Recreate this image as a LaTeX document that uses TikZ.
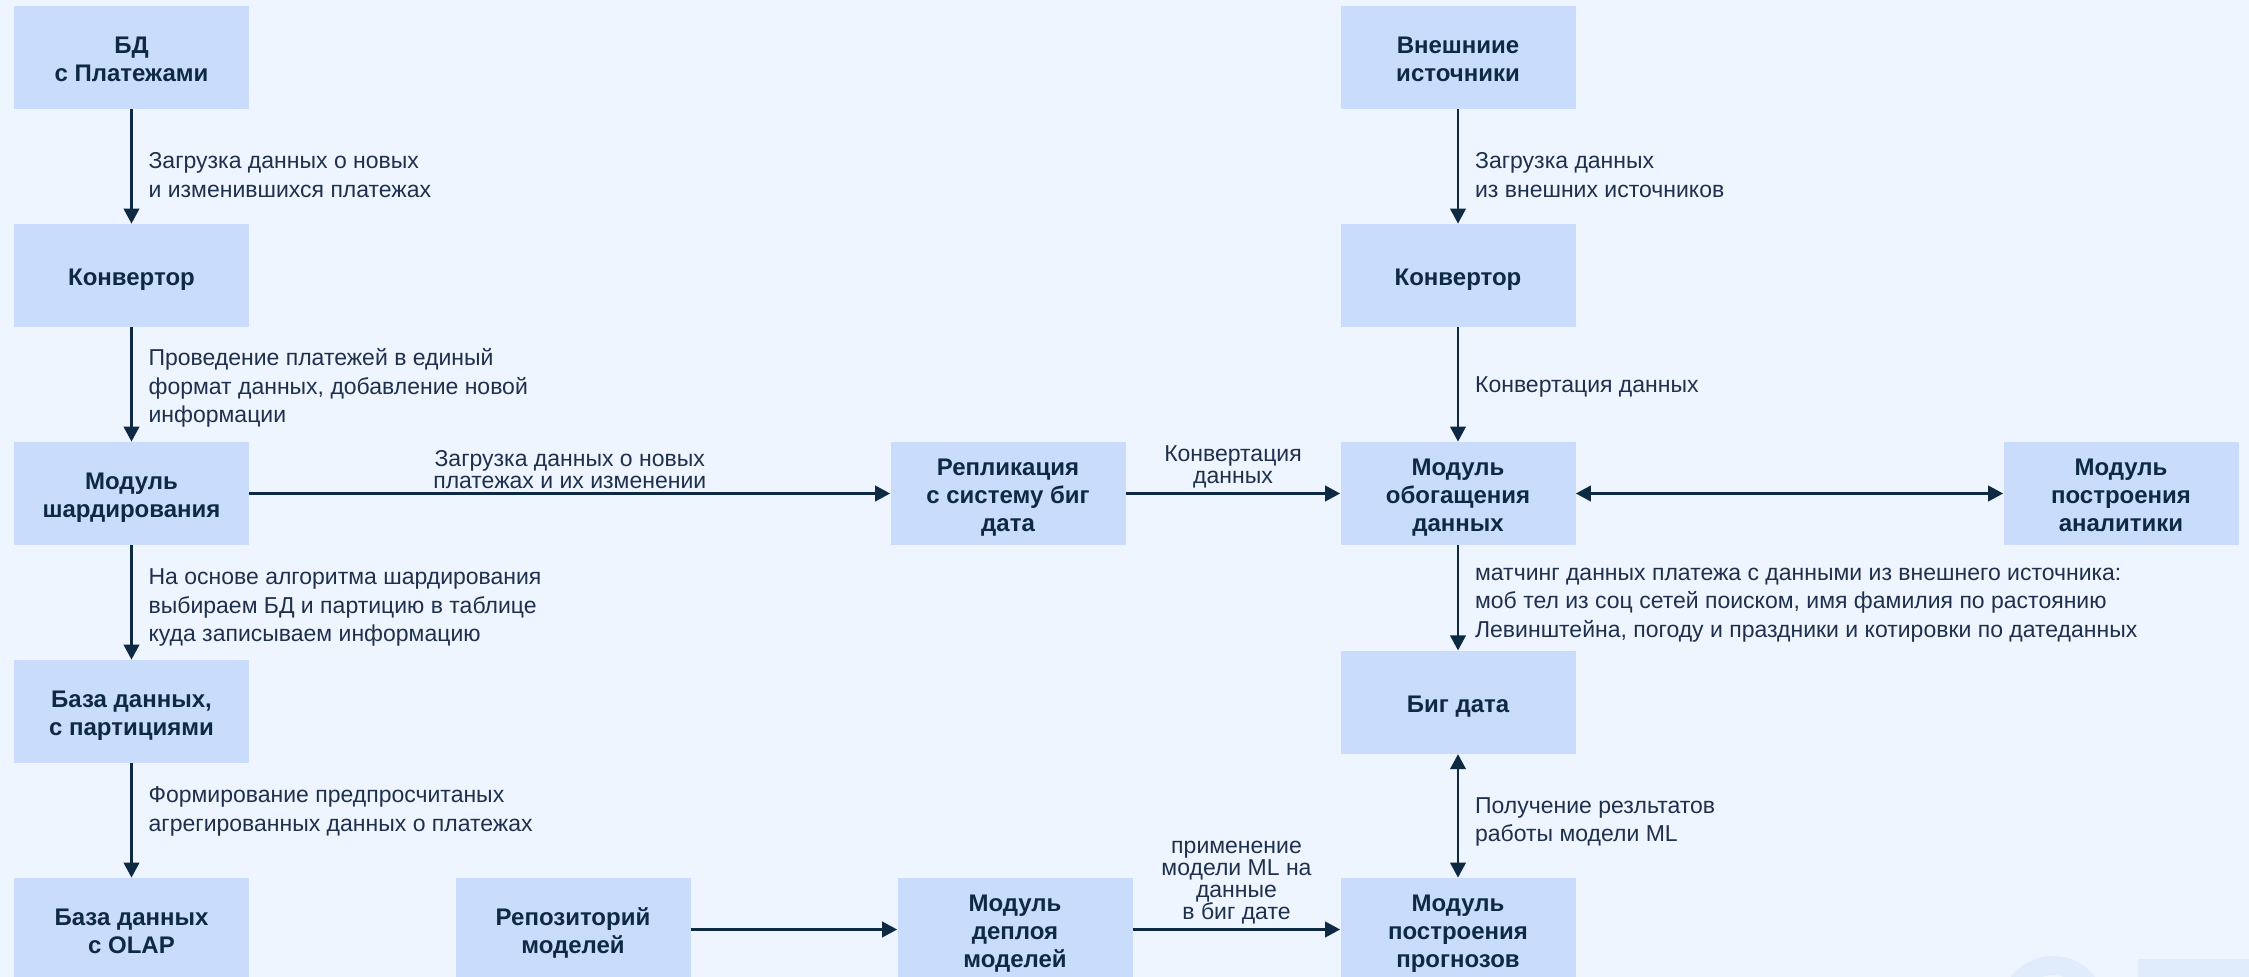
\documentclass[tikz,border=0pt]{standalone}
\usepackage{fontspec}
\setmainfont{Liberation Sans}
\usetikzlibrary{arrows.meta}
\definecolor{bg}{RGB}{239,245,254}
\definecolor{boxc}{RGB}{202,220,251}
\definecolor{txt}{RGB}{14,42,66}
\definecolor{lbl}{RGB}{30,48,78}
\definecolor{wm}{RGB}{224,236,252}
\newcommand\bt[1]{\raisebox{-2.2pt}[\height][\depth]{\begin{tabular}{@{}c@{}}#1\end{tabular}}}
\begin{document}
\begin{tikzpicture}[x=0.5pt,y=-0.5pt,
 blk/.style={fill=boxc, minimum width=117.5pt, minimum height=51.5pt, inner sep=0pt,
   font=\fontsize{12}{14.2}\selectfont\bfseries, text=txt},
 tip/.style={Triangle[length=7.5pt,width=7.8pt]},
 conn/.style={draw=txt, line width=1.1pt, -{Triangle[length=7.5pt,width=7.8pt]}},
 biconn/.style={draw=txt, line width=1.1pt, {Triangle[length=7.5pt,width=7.8pt]}-{Triangle[length=7.5pt,width=7.8pt]}},
 vlab/.style={font=\fontsize{11.5}{14.2}\selectfont, text=lbl, align=left, anchor=west, inner sep=0pt, xshift=8pt},
 hlab/.style={font=\fontsize{11.5}{11}\selectfont, text=lbl, align=center, anchor=south, inner sep=0pt, yshift=2pt},
]
\fill[bg] (0,0) rectangle (2249,977);
\useasboundingbox (0,0) rectangle (2249,977);
% faint watermark
\fill[wm, even odd rule] (2053,1009) circle (53) (2053,1009) circle (34);
\fill[wm] (2138,959) rectangle (2260,1010);

\node[blk] (bd) at (131.5,57.5) {\bt{БД\\с Платежами}};
\node[blk] (konv1) at (131.5,275.5) {\bt{Конвертор}};
\node[blk] (shard) at (131.5,493.5) {\bt{Модуль\\шардирования}};
\node[blk] (part) at (131.5,711.5) {\bt{База данных,\\с партициями}};
\node[blk] (olap) at (131.5,929.5) {\bt{База данных\\с OLAP}};
\node[blk] (repo) at (573,929.5) {\bt{Репозиторий\\моделей}};
\node[blk] (repl) at (1008,493.5) {\bt{Репликация\\с систему биг\\дата}};
\node[blk] (depl) at (1015,929.5) {\bt{Модуль\\деплоя\\моделей}};
\node[blk] (ext) at (1458,57.5) {\bt{Внешниие\\источники}};
\node[blk] (konv2) at (1458,275.5) {\bt{Конвертор}};
\node[blk] (enr) at (1458,493.5) {\bt{Модуль\\обогащения\\данных}};
\node[blk] (big) at (1458,702.3) {\bt{Биг дата}};
\node[blk] (prog) at (1458,929.5) {\bt{Модуль\\построения\\прогнозов}};
\node[blk] (anal) at (2121,493.5) {\bt{Модуль\\построения\\аналитики}};

\draw[conn] (bd) -- node[vlab, yshift=-4.2pt]{Загрузка данных о новых\\и изменившихся платежах} (konv1);
\draw[conn] (konv1) -- node[vlab, yshift=-1.8pt]{Проведение платежей в единый\\формат данных, добавление новой\\информации} (shard);
\draw[conn] (shard) -- node[vlab, yshift=-2.5pt]{На основе алгоритма шардирования\\выбираем БД и партицию в таблице\\куда записываем информацию} (part);
\draw[conn] (part) -- node[vlab, yshift=4.5pt]{Формирование предпросчитаных\\агрегированных данных о платежах} (olap);

\draw[conn] (shard) -- node[hlab]{Загрузка данных о новых\\платежах и их изменении} (repl);
\draw[conn] (repl) -- node[hlab]{Конвертация\\данных} (enr);
\draw[biconn] (enr) -- (anal);
\draw[conn] (repo) -- (depl);
\draw[conn] (depl) -- node[hlab]{применение\\модели ML на\\данные\\в биг дате} (prog);

\draw[conn] (ext) -- node[vlab, yshift=-4.2pt]{Загрузка данных\\из внешних источников} (konv2);
\draw[conn] (konv2) -- node[vlab, yshift=-1.4pt]{Конвертация данных} (enr);
\draw[conn] (enr) -- node[vlab, yshift=-3.6pt]{матчинг данных платежа с данными из внешнего источника:\\моб тел из соц сетей поиском, имя фамилия по растоянию\\Левинштейна, погоду и праздники и котировки по датеданных} (big);
\draw[biconn] (big) -- node[vlab, yshift=-2.9pt]{Получение резльтатов\\работы модели ML} (prog);
\end{tikzpicture}
\end{document}
